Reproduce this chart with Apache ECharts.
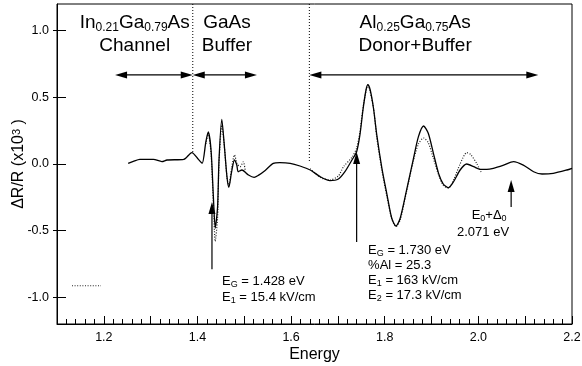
<!DOCTYPE html>
<html><head><meta charset="utf-8">
<script src="https://cdn.jsdelivr.net/npm/echarts@6/dist/echarts.min.js"></script>
<style>html,body{margin:0;padding:0;background:#fff}#c{width:582px;height:366px}</style>
</head><body><div id="c"></div><script>
// ---- data ----
const energy = [1.252,1.263,1.277,1.306,1.324,1.335,1.371,1.388,1.402,1.410,1.418,1.423,1.429,1.434,1.438,1.443,1.446,1.452,1.457,1.463,1.467,1.473,1.479,1.484,1.487,1.495,1.509,1.521,1.530,1.544,1.562,1.576,1.598,1.619,1.641,1.662,1.683,1.701,1.715,1.730,1.740,1.747,1.754,1.760,1.764,1.769,1.776,1.783,1.794,1.805,1.815,1.824,1.833,1.847,1.861,1.872,1.883,1.893,1.904,1.915,1.925,1.936,1.947,1.961,1.975,1.990,2.004,2.018,2.032,2.054,2.075,2.096,2.118,2.136,2.160,2.189,2.200];
const dRR = [0.005,0.02,0.035,0.035,0.018,0.03,0.035,0.085,0.035,0.005,0.167,0.24,0.105,-0.245,-0.48,-0.32,0.03,0.335,0.155,-0.095,-0.175,-0.058,0.03,-0.008,-0.058,-0.045,-0.083,-0.1,-0.085,-0.05,0.005,0.01,0.005,-0.015,-0.045,-0.095,-0.125,-0.113,-0.058,0.03,0.092,0.218,0.418,0.555,0.595,0.555,0.418,0.218,-0.032,-0.233,-0.407,-0.465,-0.407,-0.19,0.035,0.205,0.285,0.23,0.08,-0.07,-0.15,-0.178,-0.133,-0.045,0,-0.02,-0.04,-0.04,-0.032,-0.008,0.018,-0.008,-0.058,-0.075,-0.07,-0.045,-0.032];
const fitGaAsE = [1.418,1.423,1.429,1.434,1.438,1.443,1.446,1.452,1.457,1.463,1.467,1.473,1.479,1.485,1.491,1.498,1.502];
const fitGaAsY = [0.15,0.23,0.08,-0.3,-0.58,-0.4,0.0,0.29,0.15,-0.1,-0.16,-0.03,0.068,0.0,-0.02,0.017,-0.05];
const fitAlE = [1.641,1.662,1.683,1.701,1.712,1.730,1.740,1.747,1.754,1.764,1.776,1.783,1.794,1.805,1.815,1.824,1.833,1.847,1.861,1.872,1.883,1.893,1.904,1.915,1.925,1.936,1.947,1.961,1.975,1.984,1.997,2.007];
const fitAlY = [-0.035,-0.1,-0.12,-0.09,-0.02,0.05,0.12,0.24,0.43,0.59,0.42,0.2,-0.05,-0.25,-0.41,-0.47,-0.42,-0.2,0.02,0.15,0.195,0.16,0.04,-0.08,-0.16,-0.18,-0.12,0.0,0.085,0.07,0.0,-0.07];
const legendE = [1.132, 1.194];
const legendY = [-0.913, -0.913];
const dividerE = [1.39, 1.639];
const dividerTop = [1.2, 1.2];
const dividerBottom = [0.09, 0.015];
const yTickValues = [-1.0, -0.5, 0.0, 0.5, 1.0];
const xLabelValues = [1.2, 1.4, 1.6, 1.8, 2.0, 2.2];
// region arrows [from, to] at a common level
const regionArrows = [[1.224, 1.39], [1.39, 1.527], [1.639, 2.128]];
const regionArrowY = 0.668;
// vertical arrows [energy, bottom, tip]
const pointerArrows = [[1.431, -0.79, -0.285], [1.74, -0.585, 0.09], [2.07, -0.323, -0.12]];

const zip = (a, b) => a.map((v, i) => [v, b[i]]);
const FONT = '"Liberation Sans", Arial, Helvetica, sans-serif';

const chart = echarts.init(document.getElementById('c'), null, {renderer: 'canvas'});
const dotted = {color: '#222', width: 1.2, type: [1, 1.6]};
chart.setOption({
  animation: false,
  backgroundColor: '#fff',
  textStyle: {fontFamily: FONT, color: '#000'},
  grid: {left: 57, right: 10, top: 4, bottom: 42, show: true, borderColor: '#000', borderWidth: 1, outerBoundsMode: 'none'},
  xAxis: {
    type: 'value', min: 1.1, max: 2.2, interval: 0.1,
    name: 'Energy', nameLocation: 'middle', nameGap: 23, nameMoveOverlap: false,
    nameTextStyle: {fontSize: 16, color: '#000', fontFamily: FONT},
    axisLine: {onZero: false, lineStyle: {color: '#000', width: 1}},
    axisTick: {inside: true, length: 8, lineStyle: {color: '#000', width: 1}},
    minorTick: {show: true, splitNumber: 5, length: 5, lineStyle: {color: '#000', width: 1}},
    splitLine: {show: false},
    axisLabel: {
      fontSize: 12.5, color: '#000', fontFamily: FONT, margin: 7, showMaxLabel: true,
      formatter: v => xLabelValues.some(t => Math.abs(t - v) < 1e-6) ? v.toFixed(1) : ''
    }
  },
  yAxis: [{
    type: 'value', min: -1.2, max: 1.2,
    name: '{m|ΔR/R (x10}{sup|3}{m| )}', nameLocation: 'middle', nameGap: 30, nameRotate: 90, nameMoveOverlap: false,
    nameTextStyle: {rich: {m: {fontSize: 16, fontFamily: FONT, color: '#000'}, sup: {fontSize: 11, fontFamily: FONT, color: '#000', verticalAlign: 'top', lineHeight: 10}}},
    axisLine: {onZero: false, lineStyle: {color: '#000', width: 1}},
    axisTick: {inside: true, length: 9, customValues: yTickValues, lineStyle: {color: '#000', width: 1}},
    splitLine: {show: false},
    axisLabel: {customValues: yTickValues, fontSize: 12.5, color: '#000', fontFamily: FONT, margin: 8, formatter: v => v.toFixed(1)}
  }, {
    type: 'value', min: -1.2, max: 1.2, position: 'left',
    axisLine: {show: false, onZero: false},
    axisTick: {inside: false, length: 4, customValues: yTickValues, lineStyle: {color: '#000', width: 1}},
    axisLabel: {show: false}, splitLine: {show: false}
  }],
  series: [
    {type: 'line', data: zip(energy, dRR), showSymbol: false, smooth: 0.25, lineStyle: {color: '#000', width: 1.3}, z: 4},
    {type: 'line', data: zip(fitGaAsE, fitGaAsY), showSymbol: false, smooth: 0.25, lineStyle: dotted, z: 3},
    {type: 'line', data: zip(fitAlE, fitAlY), showSymbol: false, smooth: 0.25, lineStyle: dotted, z: 3},
    {type: 'line', data: zip(legendE, legendY), showSymbol: false, lineStyle: dotted, z: 3},
    {type: 'line', data: [[dividerE[0], dividerTop[0]], [dividerE[0], dividerBottom[0]]], showSymbol: false, lineStyle: {color: '#000', width: 1, type: [1, 2]}},
    {type: 'line', data: [[dividerE[1], dividerTop[1]], [dividerE[1], dividerBottom[1]]], showSymbol: false, lineStyle: {color: '#000', width: 1, type: [1, 2]}}
  ]
});

const P = (x, y) => chart.convertToPixel({gridIndex: 0}, [x, y]);
const g = [];
const HL = 12, HW = 3.5;
regionArrows.forEach(([a, b]) => {
  const p1 = P(a, regionArrowY), p2 = P(b, regionArrowY);
  g.push({type: 'line', shape: {x1: p1[0] + 4, y1: p1[1], x2: p2[0] - 4, y2: p2[1]}, style: {stroke: '#000', lineWidth: 1.3}});
  g.push({type: 'polygon', shape: {points: [[p1[0], p1[1]], [p1[0] + HL, p1[1] - HW], [p1[0] + HL, p1[1] + HW]]}, style: {fill: '#000'}});
  g.push({type: 'polygon', shape: {points: [[p2[0], p2[1]], [p2[0] - HL, p2[1] - HW], [p2[0] - HL, p2[1] + HW]]}, style: {fill: '#000'}});
});
pointerArrows.forEach(([x, yb, yt]) => {
  const b = P(x, yb), t = P(x, yt);
  g.push({type: 'line', shape: {x1: b[0], y1: b[1], x2: t[0], y2: t[1] + 4}, style: {stroke: '#000', lineWidth: 1.2}});
  g.push({type: 'polygon', shape: {points: [[t[0], t[1]], [t[0] - HW, t[1] + HL], [t[0] + HW, t[1] + HL]]}, style: {fill: '#000'}});
});
const bigRich = {m: {fontSize: 19, fontFamily: FONT, fill: '#000', lineHeight: 22}, s: {fontSize: 12, fontFamily: FONT, fill: '#000', verticalAlign: 'bottom', lineHeight: 8}};
const smallRich = {m: {fontSize: 13, fontFamily: FONT, fill: '#000', lineHeight: 15}, s: {fontSize: 9, fontFamily: FONT, fill: '#000', verticalAlign: 'bottom', lineHeight: 6}};
function txt(x, y, text, rich, align) {
  const p = P(x, y);
  g.push({type: 'text', x: p[0], y: p[1], style: {text: text, rich: rich, align: align, verticalAlign: 'middle', fill: '#000', font: '19px ' + FONT}});
}
txt(1.266, 1.061, '{m|In}{s|0.21}{m|Ga}{s|0.79}{m|As}', bigRich, 'center');
txt(1.266, 0.889, '{m|Channel}', bigRich, 'center');
txt(1.463, 1.061, '{m|GaAs}', bigRich, 'center');
txt(1.463, 0.889, '{m|Buffer}', bigRich, 'center');
txt(1.865, 1.061, '{m|Al}{s|0.25}{m|Ga}{s|0.75}{m|As}', bigRich, 'center');
txt(1.865, 0.889, '{m|Donor+Buffer}', bigRich, 'center');
txt(1.4526, -0.878, '{m|E}{s|G}{m| = 1.428 eV}', smallRich, 'left');
txt(1.4526, -0.998, '{m|E}{s|1}{m| = 15.4 kV/cm}', smallRich, 'left');
txt(1.7645, -0.65, '{m|E}{s|G}{m| = 1.730 eV}', smallRich, 'left');
txt(1.7645, -0.761, '{m|%Al = 25.3}', smallRich, 'left');
txt(1.7645, -0.874, '{m|E}{s|1}{m| = 163 kV/cm}', smallRich, 'left');
txt(1.7645, -0.986, '{m|E}{s|2}{m| = 17.3 kV/cm}', smallRich, 'left');
txt(2.023, -0.383, '{m|E}{s|0}{m|+Δ}{s|0}', smallRich, 'center');
txt(2.010, -0.51, '{m|2.071 eV}', smallRich, 'center');
chart.setOption({graphic: g});
</script></body></html>
